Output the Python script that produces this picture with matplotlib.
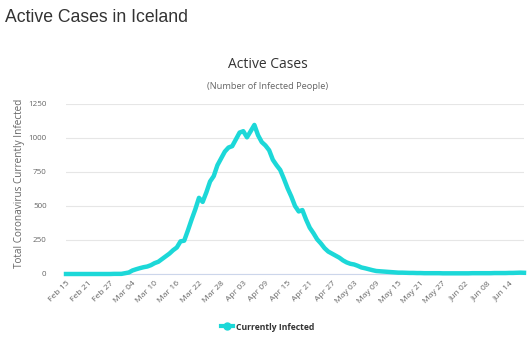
import matplotlib
matplotlib.use("Agg")
import matplotlib.pyplot as plt
import numpy as np
import datetime as dt

# --- data ---
start_date = dt.date(2020, 2, 15)
active_cases = [
    0, 0, 0, 0, 0, 0, 0, 0, 0, 0, 0, 0, 0, 1, 1,          # Feb 15 - Feb 29
    1, 6, 11, 26, 35, 43, 50, 55, 65, 80, 90, 110, 130, 150, 175,  # Mar 1 - Mar 15
    195, 240, 245, 320, 400, 475, 560, 530, 600, 680, 720, 800, 850, 900, 930,  # Mar 16 - Mar 30
    940, 990, 1040, 1050, 1005, 1050, 1096, 1020, 970, 945, 910, 840, 800, 765, 700,  # Mar 31 - Apr 14
    630, 570, 500, 460, 470, 400, 340, 300, 255, 225, 190, 165, 150, 135, 120,  # Apr 15 - Apr 29
    100, 85, 75, 70, 60, 48, 42, 35, 28, 22, 20, 18, 16, 14, 12,  # Apr 30 - May 14
    10, 10, 9, 8, 8, 7, 7, 6, 6, 6, 6, 6, 5, 5, 5,  # May 15 - May 29
    5, 5, 5, 5, 5, 6, 6, 6, 6, 6, 6, 7, 7, 7, 7,  # May 30 - Jun 13
    8, 8, 9, 10, 9,  # Jun 14 - Jun 18
]
dates = [start_date + dt.timedelta(days=i) for i in range(len(active_cases))]
date_labels = [d.strftime("%b %d") for d in dates]
series_name = "Currently Infected"
y_ticks = [0, 250, 500, 750, 1000, 1250]

# --- figure ---
W, H = 532, 339
fig = plt.figure(figsize=(W / 100, H / 100), dpi=100)
plt.rcParams['font.family'] = ['Open Sans', 'DejaVu Sans']

ax = fig.add_axes([66 / W, 1 - 274 / H, (524 - 66) / W, (274 - 104) / H])
x = np.arange(len(active_cases))
line_color = "#1cd8d8"
ax.plot(x, active_cases, color=line_color, lw=3.2, solid_joinstyle='round', clip_on=False, zorder=3)

ax.set_xlim(0, len(active_cases) - 1)
ax.set_ylim(0, 1250)
ax.set_yticks(y_ticks)
ax.set_yticklabels([str(v) for v in y_ticks], fontsize=5.8, color="#666666")
ax.grid(axis='y', color="#e6e6e6", lw=0.8)
ax.set_axisbelow(True)

tick_idx = list(range(0, len(active_cases), 6))
ax.set_xticks(tick_idx)
ax.set_xticklabels([date_labels[i] for i in tick_idx], rotation=45, ha='right',
                   rotation_mode='anchor', fontsize=6.1, color="#666666")
ax.tick_params(axis='x', length=0, pad=4)
ax.tick_params(axis='y', length=0, pad=14)
for s in ['top', 'right', 'left']:
    ax.spines[s].set_visible(False)
ax.spines['bottom'].set_color("#ccd6eb")
ax.spines['bottom'].set_linewidth(0.8)

fig.text(20 / W, 1 - 183 / H, "Total Coronavirus Currently Infected", fontsize=7.2, color="#666666",
         rotation=90, ha='center', va='center')

# titles
fig.text(5 / W, 1 - 18 / H, "Active Cases in Iceland", fontsize=12.7, color="#333333",
         family=['Liberation Sans', 'DejaVu Sans'], va='center', ha='left')
fig.text(268 / W, 1 - 65 / H, "Active Cases", fontsize=10.0, color="#333333", ha='center', va='center')
fig.text(268 / W, 1 - 87 / H, "(Number of Infected People)", fontsize=6.7, color="#666666", ha='center', va='center')

# legend
from matplotlib.lines import Line2D
handle = Line2D([], [], color=line_color, lw=3.0, marker='o', markersize=5, markerfacecolor=line_color)
fig.legend([handle], [series_name], loc='center', bbox_to_anchor=(268 / W, 1 - 327 / H),
           frameon=False, prop={'size': 6.2, 'weight': 'bold'}, labelcolor="#333333",
           handlelength=1.3, handletextpad=0.4)

fig.savefig("out.png", dpi=100)
